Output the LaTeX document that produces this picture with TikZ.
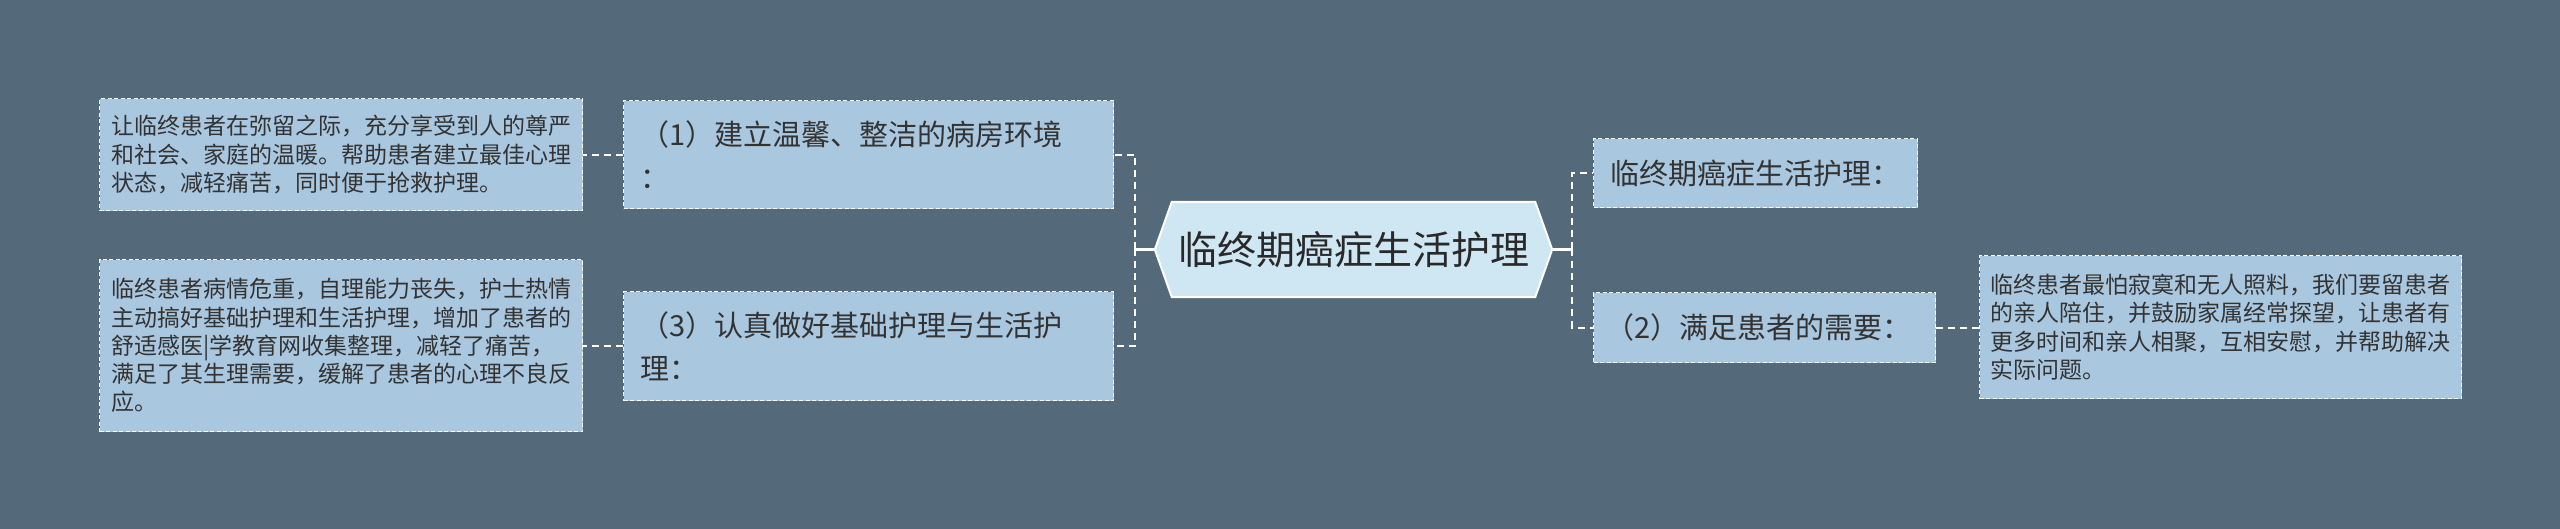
\documentclass[tikz,border=0pt]{standalone}
\usepackage{fontspec}
\setmainfont{Noto Sans CJK SC}
\usetikzlibrary{calc}
\definecolor{bg}{HTML}{546A7B}
\definecolor{boxfill}{HTML}{A9C7DF}
\definecolor{hexfill}{HTML}{CFE6F3}
\definecolor{txt}{HTML}{333333}
\tikzset{
  leaf/.style={draw=white, dash pattern=on 4pt off 2.5pt, line width=1.3pt, fill=boxfill,
    text=txt, align=left, inner ysep=0pt, anchor=north west},
  small/.style={font=\fontsize{23pt}{28.3pt}\selectfont},
  mid/.style={font=\fontsize{29pt}{43pt}\selectfont},
  conn/.style={draw=white, line width=2pt, dash pattern=on 7pt off 5pt},
  stub/.style={draw=white, line width=2.5pt},
}
\begin{document}
\begin{tikzpicture}[x=1pt,y=-1pt]
\fill[bg] (0,0) rectangle (2560,529);
\useasboundingbox (0,0) rectangle (2560,529);

% centre
\node[minimum width=397pt, minimum height=95pt, inner sep=0pt] (hex) at (1353.5,249.5) {};
\draw[white, line width=2pt, fill=hexfill]
  (hex.west) -- ([xshift=17pt]hex.north west) -- ([xshift=-17pt]hex.north east)
  -- (hex.east) -- ([xshift=-17pt]hex.south east) -- ([xshift=17pt]hex.south west) -- cycle;
\node[text=txt!80!black, font=\fontsize{39pt}{46pt}\selectfont] (hextext) at (hex.center) {临终期癌症生活护理};

% left branch
\node[leaf, mid, text width=456pt, inner xsep=17pt, minimum height=108pt] (b1) at (623,100)
  {（1）建立温馨、整洁的病房环境\\：};
\node[leaf, mid, text width=456pt, inner xsep=17pt, minimum height=109pt] (b3) at (623,291)
  {（3）认真做好基础护理与生活护\\理：};
\node[leaf, small, text width=460pt, inner xsep=11.5pt, minimum height=112pt] (l1) at (99,98)
  {让临终患者在弥留之际，充分享受到人的尊严\\和社会、家庭的温暖。帮助患者建立最佳心理\\状态，减轻痛苦，同时便于抢救护理。};
\node[leaf, small, text width=460pt, inner xsep=11.5pt, minimum height=172pt] (l3) at (99,259)
  {临终患者病情危重，自理能力丧失，护士热情\\主动搞好基础护理和生活护理，增加了患者的\\舒适感医|学教育网收集整理，减轻了痛苦，\\满足了其生理需要，缓解了患者的心理不良反\\应。};

% right branch
\node[leaf, mid, text width=290pt, inner xsep=17pt, minimum height=69pt] (r1) at (1593,138)
  {临终期癌症生活护理：};
\node[leaf, mid, text width=319pt, inner xsep=11.5pt, minimum height=70pt] (r2) at (1593,292)
  {（2）满足患者的需要：};
\node[leaf, small, text width=460pt, inner xsep=11pt, minimum height=143pt] (r3) at (1979,255)
  {临终患者最怕寂寞和无人照料，我们要留患者\\的亲人陪住，并鼓励家属经常探望，让患者有\\更多时间和亲人相聚，互相安慰，并帮助解决\\实际问题。};

% connectors
\coordinate (jl) at (1135,249.5);
\coordinate (jr) at (1572,249.5);
\draw[stub] (hex.west) -- (jl);
\draw[stub] (hex.east) -- (jr);
\draw[conn] (jl) |- (b1.east);
\draw[conn] (jl) |- (b3.east);
\draw[conn] (jr) |- (r1.west);
\draw[conn] (jr) |- (r2.west);
\draw[conn] (b1.west) -- (l1.east |- b1.west);
\draw[conn] (b3.west) -- (l3.east |- b3.west);
\draw[conn] (r2.east) -- (r3.west |- r2.east);
\end{tikzpicture}
\end{document}
